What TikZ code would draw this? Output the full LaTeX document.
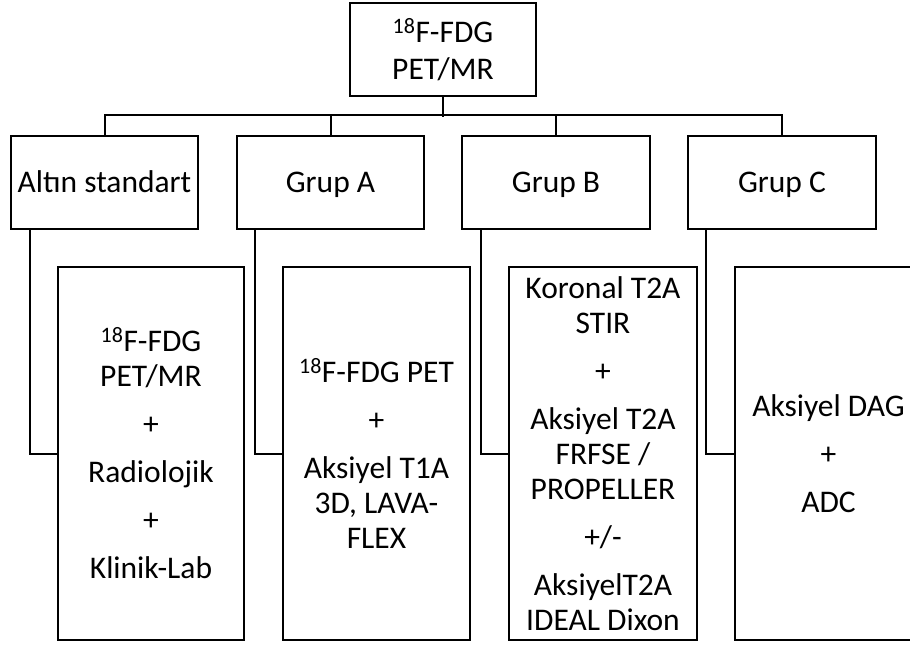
\documentclass[tikz,border=0pt]{standalone}
\usepackage{fontspec}
\setmainfont{Carlito}
\usetikzlibrary{calc}
\begin{document}
\begin{tikzpicture}[x=1pt,y=-1pt,
  box/.style={draw=black, line width=2pt, align=center, inner sep=0pt,
    font=\fontsize{31.5}{35}\selectfont},
  grp/.style={box, minimum height=93pt, text height=20pt, text depth=0pt},
  link/.style={draw=black, line width=2pt},
  ]
\useasboundingbox (0,0) rectangle (910,646);
\fill[white] (0,0) rectangle (910,646);
\clip (0,0) rectangle (910,646);
% top
\node[box, minimum width=186pt, minimum height=93pt] (top) at (443,49.5)
  {\textsuperscript{18}F-FDG\\[2pt]PET/MR};
% second row
\node[grp, minimum width=187pt] (alt) at (104.5,182.5) {Altın standart};
\node[grp, minimum width=187pt] (ga) at (330.5,182.5) {Grup A};
\node[grp, minimum width=188pt] (gb) at (556,182.5) {Grup B};
\node[grp, minimum width=188pt] (gc) at (782,182.5) {Grup C};
% bottom row
\node[box, minimum width=186pt, minimum height=373pt] (alt2) at (151,453.5)
  {\textsuperscript{18}F-FDG\\PET/MR\\[13pt]+\\[13pt]Radiolojik\\[13pt]+\\[13pt]Klinik-Lab};
\node[box, minimum width=187pt, minimum height=373pt] (ga2) at (376.5,453.5)
  {\textsuperscript{18}F-FDG PET\\[13pt]+\\[13pt]Aksiyel T1A\\3D, LAVA-\\FLEX};
\node[box, minimum width=188pt, minimum height=373pt] (gb2) at (603,453.5)
  {Koronal T2A\\STIR\\[13pt]+\\[13pt]Aksiyel T2A\\FRFSE /\\PROPELLER\\[13pt]+/-\\[13pt]AksiyelT2A\\IDEAL Dixon};
\node[box, minimum width=188pt, minimum height=373pt] (gc2) at (828.5,453.5)
  {Aksiyel DAG\\[13pt]+\\[13pt]ADC};
% tree connectors
\draw[link] (top.south) -- ++(0,20);
\draw[link] (alt.north) -- ++(0,-20) -| (gc.north);
\draw[link] (ga.north) -- ++(0,-20);
\draw[link] (gb.north) -- ++(0,-20);
% elbows
\draw[link] ([xshift=20pt]alt.south west) |- (alt2.west);
\draw[link] ([xshift=19pt]ga.south west) |- (ga2.west);
\draw[link] ([xshift=20pt]gb.south west) |- (gb2.west);
\draw[link] ([xshift=19pt]gc.south west) |- (gc2.west);
\end{tikzpicture}
\end{document}
